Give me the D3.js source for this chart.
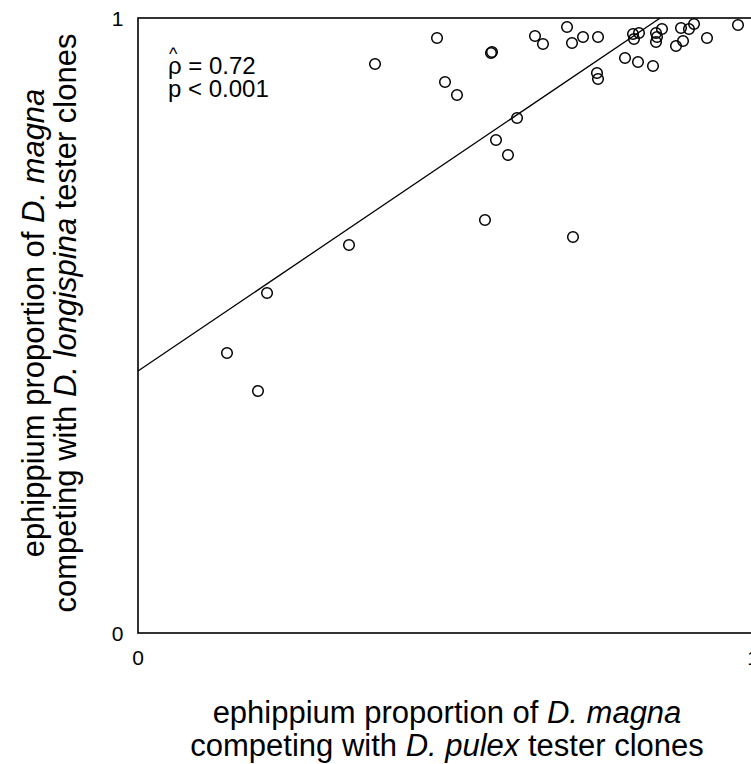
<!DOCTYPE html>
<html><head><meta charset="utf-8">
<script src="https://cdn.jsdelivr.net/npm/d3@7"></script>
<style>html,body{margin:0;padding:0;background:#fff;overflow:hidden}</style>
</head><body>
<script>
const xVals = [0.1447,0.1951,0.2098,0.3431,0.3854,0.4862,0.4992,0.5187,0.5642,0.5740,0.5756,0.5821,0.6016,0.6163,0.6455,0.6585,0.6976,0.7057,0.7073,0.7236,0.7463,0.7480,0.7480,0.7919,0.8049,0.8065,0.8146,0.8130,0.8374,0.8423,0.8439,0.8423,0.8520,0.8748,0.8862,0.8829,0.8959,0.9041,0.9252,0.9756];
const yVals = [0.4553,0.3935,0.5528,0.6309,0.9252,0.9675,0.8959,0.8748,0.6715,0.9431,0.9447,0.8016,0.7772,0.8374,0.9707,0.9577,0.9854,0.9593,0.6439,0.9691,0.9106,0.9008,0.9691,0.9350,0.9740,0.9659,0.9756,0.9285,0.9220,0.9756,0.9691,0.9610,0.9821,0.9545,0.9626,0.9837,0.9821,0.9902,0.9675,0.9886];
const xTicks = [0, 1];
const yTicks = [0, 1];
const fitIntercept = 0.426;
const fitSlope = 0.676;
const annotation = ["ρ = 0.72", "p < 0.001"];

const W = 751, H = 764;
const svg = d3.select("body").append("svg").attr("width", W).attr("height", H)
  .style("font-family", "'Liberation Sans', Arial, Helvetica, sans-serif");

const x = d3.scaleLinear().domain([0, 1]).range([138, 753]);
const y = d3.scaleLinear().domain([0, 1]).range([633, 18]);

svg.append("defs").append("clipPath").attr("id", "clip")
  .append("rect").attr("x", x(0)).attr("y", y(1)).attr("width", x(1) - x(0)).attr("height", y(0) - y(1));

// box
svg.append("rect").attr("x", x(0)).attr("y", y(1)).attr("width", x(1) - x(0)).attr("height", y(0) - y(1))
  .attr("fill", "none").attr("stroke", "#000").attr("stroke-width", 1.6);

// regression line
const xEnd = (1 - fitIntercept) / fitSlope;
svg.append("line").attr("clip-path", "url(#clip)")
  .attr("x1", x(0)).attr("y1", y(fitIntercept))
  .attr("x2", x(Math.min(1, xEnd))).attr("y2", y(fitIntercept + fitSlope * Math.min(1, xEnd)))
  .attr("stroke", "#000").attr("stroke-width", 1.3);

// points
svg.append("g").selectAll("circle").data(xVals.map((v, i) => [v, yVals[i]])).join("circle")
  .attr("cx", d => x(d[0])).attr("cy", d => y(d[1])).attr("r", 5.3)
  .attr("fill", "none").attr("stroke", "#000").attr("stroke-width", 1.5);

// tick labels
svg.append("g").selectAll("text").data(yTicks).join("text")
  .attr("x", 117.5).attr("y", d => y(d) + 7.5).attr("text-anchor", "middle")
  .attr("font-size", 21).text(d => d);
svg.append("g").selectAll("text").data(xTicks).join("text")
  .attr("x", d => x(d)).attr("y", 665).attr("text-anchor", "middle")
  .attr("font-size", 21).text(d => d);

// annotation
svg.append("text").attr("x", 168).attr("y", 74).attr("font-size", 24).text(annotation[0]);
svg.append("text").attr("x", 169).attr("y", 60).attr("font-size", 18).text("^");
svg.append("text").attr("x", 168).attr("y", 96.5).attr("font-size", 24).text(annotation[1]);

// x title
const xt = svg.append("text").attr("text-anchor", "middle").attr("font-size", 31);
xt.append("tspan").attr("x", 447).attr("y", 723)
  .html('ephippium proportion of <tspan font-style="italic">D. magna</tspan>');
const xt2 = svg.append("text").attr("text-anchor", "middle").attr("font-size", 31);
xt2.append("tspan").attr("x", 447).attr("y", 756)
  .html('competing with <tspan font-style="italic">D. pulex</tspan> tester clones');

// y title
const yc = 323;
svg.append("text").attr("text-anchor", "middle").attr("font-size", 31)
  .attr("transform", `translate(44,${yc}) rotate(-90)`)
  .html('ephippium proportion of <tspan font-style="italic">D. magna</tspan>');
svg.append("text").attr("text-anchor", "middle").attr("font-size", 31)
  .attr("transform", `translate(76,${yc}) rotate(-90)`)
  .html('competing with <tspan font-style="italic">D. longispina</tspan> tester clones');
</script>
</body></html>
